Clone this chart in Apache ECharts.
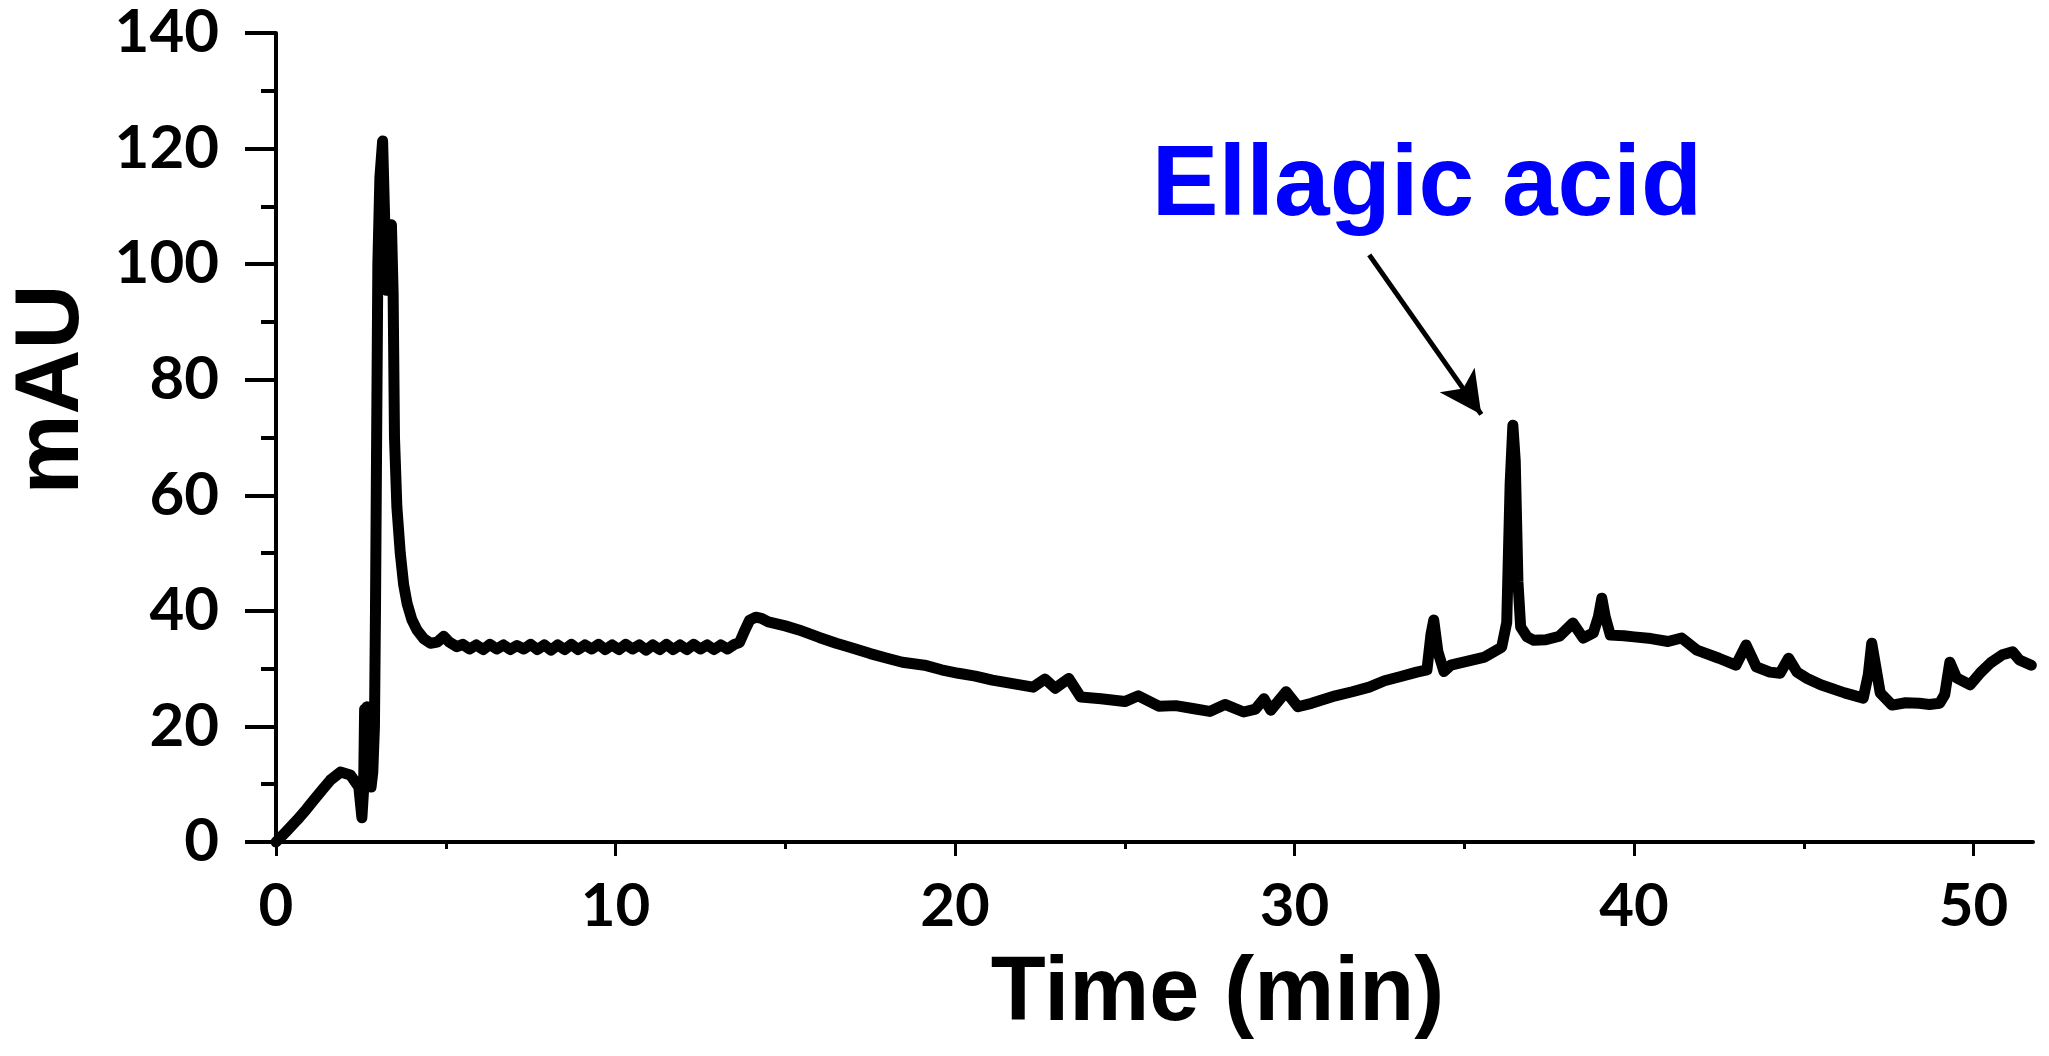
<!DOCTYPE html>
<html>
<head>
<meta charset="utf-8">
<script src="https://cdn.jsdelivr.net/npm/echarts@6/dist/echarts.min.js"></script>
<style>
html,body{margin:0;padding:0;background:#fff;}
#chart{width:2049px;height:1056px;}
</style>
</head>
<body>
<div id="chart"></div>
<script>
// ---- data ----
const timeMin = [
  0, 0.3, 0.62, 0.9, 1.12, 1.4, 1.6, 1.9, 2.19, 2.44, 2.53, 2.58, 2.61, 2.64, 2.68, 2.72, 2.76, 2.8, 2.85,
  2.9, 2.93, 2.97, 3.0, 3.06, 3.14, 3.2, 3.25, 3.32, 3.4, 3.45, 3.49, 3.56, 3.66, 3.76, 3.86, 4.0, 4.15,
  4.35, 4.55, 4.75, 4.94, 5.1, 5.33,
  5.5, 5.7, 5.9, 6.1, 6.3, 6.5, 6.7, 6.9, 7.1, 7.3, 7.5, 7.7, 7.9, 8.1, 8.3, 8.5, 8.7, 8.9, 9.1, 9.3,
  9.5, 9.7, 9.9, 10.1, 10.3, 10.5, 10.7, 10.9, 11.1, 11.3, 11.5, 11.7, 11.9, 12.1, 12.3, 12.5, 12.7,
  12.9, 13.1, 13.3, 13.5,
  13.65, 13.8, 13.95, 14.13, 14.3, 14.5, 15.0, 15.4, 16.0, 16.5, 16.9, 17.5, 18.0, 18.45, 19.1, 19.6,
  20.1, 20.6, 21.1, 21.7, 22.3, 22.65, 22.95, 23.35, 23.7, 24.3, 25.0, 25.4, 26.0, 26.5, 27.0, 27.5,
  27.95, 28.5, 28.85, 29.1, 29.3, 29.75, 30.1, 30.5, 31.2, 31.7, 32.2, 32.65, 33.1, 33.6, 33.9, 34.02,
  34.1, 34.22, 34.4, 34.6, 35.1, 35.6, 36.1, 36.25, 36.35, 36.43, 36.5, 36.58, 36.66, 36.85, 37.05,
  37.4, 37.8, 38.2, 38.5, 38.8, 38.95, 39.05, 39.15, 39.3, 39.7, 40.0, 40.5, 41.0, 41.4, 41.85, 42.5,
  43.0, 43.3, 43.6, 44.0, 44.3, 44.55, 44.8, 45.1, 45.5, 46.2, 46.75, 46.9, 47.0, 47.1, 47.25, 47.6,
  48.0, 48.4, 48.7, 49.0, 49.15, 49.3, 49.5, 49.9, 50.2, 50.5, 50.85, 51.15, 51.35, 51.7
];
const absorbance = [
  0, 1.8, 3.8, 5.7, 7.3, 9.3, 10.7, 12.1, 11.6, 9.5, 4.2, 9.0, 23.0, 10.0, 23.4, 10.5, 22.5, 9.5, 12.0,
  20, 40, 75, 100, 115, 121.3, 108, 95.5, 100, 106.8, 95, 70, 58, 50, 44.5, 41.3, 38.5, 36.7,
  35.2, 34.4, 34.6, 35.6, 34.6, 33.8,
  34.2, 33.4, 34.1, 33.3, 34.2, 33.4, 34.1, 33.3, 34.0, 33.4, 34.2, 33.3, 34.1, 33.2, 34.1, 33.3, 34.2, 33.3, 34.1, 33.4,
  34.2, 33.3, 34.1, 33.3, 34.2, 33.4, 34.1, 33.2, 34.1, 33.3, 34.2, 33.3, 34.1, 33.3, 34.2, 33.4, 34.1,
  33.3, 34.1, 33.4, 34.2,
  34.5, 36.5, 38.4, 38.9, 38.7, 38.1, 37.4, 36.7, 35.4, 34.4, 33.7, 32.6, 31.8, 31.1, 30.6, 29.8,
  29.2, 28.7, 28.0, 27.4, 26.8, 28.2, 26.6, 28.3, 25.1, 24.8, 24.3, 25.3, 23.5, 23.6, 23.1, 22.6,
  23.8, 22.5, 23.0, 24.8, 22.8, 26.0, 23.4, 24.0, 25.3, 26.0, 26.8, 27.9, 28.6, 29.4, 29.8, 36.0,
  38.4, 33.0, 29.5, 30.6, 31.3, 32.0, 33.7, 38.0, 62.0, 72.1, 66.0, 45.0, 37.2, 35.5, 34.9,
  35.0, 35.6, 37.9, 35.3, 36.2, 39.0, 42.2, 39.0, 35.8, 35.7, 35.5, 35.2, 34.7, 35.3, 33.2, 31.8,
  30.6, 34.1, 30.3, 29.4, 29.2, 31.8, 29.4, 28.3, 27.2, 25.8, 24.9, 29.0, 34.4, 31.0, 25.8, 23.7,
  24.1, 24.0, 23.8, 24.0, 25.5, 31.1, 28.4, 27.2, 29.3, 31.0, 32.4, 32.9, 31.5, 30.6
];
const xMajorTicks = [0, 10, 20, 30, 40, 50];
const xMinorTicks = [5, 15, 25, 35, 45];
const yTicks = [0, 20, 40, 60, 80, 100, 120, 140];
const peakName = 'Ellagic acid';
const xTitle = 'Time (min)';
const yTitle = 'mAU';

// annotation anchors (data coordinates)
const labelAnchor = [33.9, 113.2];
const arrowFrom = [32.2, 101.6];
const arrowTo = [35.5, 74.0];

const seriesData = timeMin.map((t, i) => [t, absorbance[i]]);

const chart = echarts.init(document.getElementById('chart'), null, {renderer: 'canvas'});
const tickFont = {fontFamily: 'Lato', fontWeight: 'bold', fontSize: 60, color: '#000'};
const titleFont = {fontFamily: 'Liberation Sans', fontWeight: 'bold', fontSize: 90, color: '#000'};

chart.setOption({
  animation: false,
  backgroundColor: '#fff',
  grid: {left: 272, right: 16, top: 33, bottom: 214, containLabel: false},
  xAxis: [{
    type: 'value', min: 0, max: 51.75, interval: 10,
    name: xTitle, nameLocation: 'middle', nameGap: 108,
    nameTextStyle: Object.assign({}, titleFont, {padding: [0, 0, 0, 126]}),
    axisLine: {show: true, onZero: false, lineStyle: {color: '#000', width: 4}},
    axisTick: {show: true, customValues: xMajorTicks, length: 14, lineStyle: {color: '#000', width: 3}},
    axisLabel: Object.assign({}, tickFont, {customValues: xMajorTicks, margin: 35}),
    minorTick: {show: false},
    splitLine: {show: false}
  }, {
    type: 'value', min: 0, max: 51.75, position: 'bottom',
    axisLine: {show: false},
    axisTick: {show: true, customValues: xMinorTicks, length: 7, lineStyle: {color: '#000', width: 3}},
    axisLabel: {show: false},
    splitLine: {show: false}
  }],
  yAxis: {
    type: 'value', min: 0, max: 140, interval: 20,
    name: yTitle, nameLocation: 'middle', nameGap: 178, nameRotate: 90,
    nameTextStyle: Object.assign({}, titleFont, {padding: [0, 0, 0, 96]}),
    axisLine: {show: true, lineStyle: {color: '#000', width: 4}},
    axisTick: {show: true, length: 31, lineStyle: {color: '#000', width: 4}},
    minorTick: {show: true, splitNumber: 2, length: 15, lineStyle: {color: '#000', width: 4}},
    axisLabel: Object.assign({}, tickFont, {margin: 57, customValues: yTicks, padding: [6, 0, 0, 0]}),
    splitLine: {show: false}
  },
  series: [{
    type: 'line',
    data: seriesData,
    showSymbol: false,
    symbol: 'none',
    lineStyle: {color: '#000', width: 11, cap: 'round', join: 'round'},
    z: 3,
    markPoint: {
      symbol: 'circle', symbolSize: 0, silent: true,
      label: {show: true, position: 'inside', formatter: peakName,
        fontFamily: 'Liberation Sans', fontWeight: 'bold', fontSize: 100, color: '#0000ff'},
      data: [{coord: labelAnchor}]
    },
    markLine: {
      silent: true, symbol: ['none', 'arrow'], symbolSize: [32, 42],
      label: {show: false},
      lineStyle: {color: '#000', width: 5, type: 'solid'},
      data: [[{coord: arrowFrom}, {coord: arrowTo}]]
    }
  }]
});
</script>
</body>
</html>
